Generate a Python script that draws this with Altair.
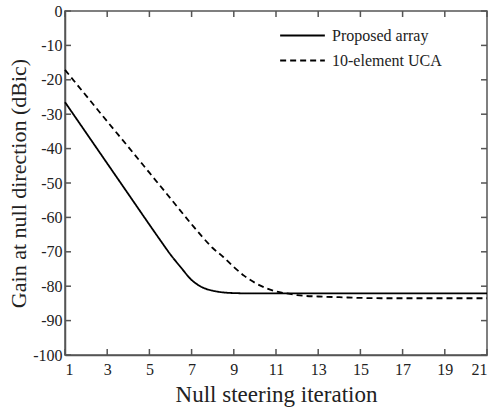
import altair as alt
import pandas as pd

# Values
iter_proposed = [1, 2, 3, 4, 5, 5.5, 6, 6.5, 7, 7.5, 8, 8.5, 9, 10, 11, 12, 13, 14, 15, 16, 17, 18, 19, 20, 21]
gain_proposed = [-26.5, -35.4, -44.3, -53.2, -62.1, -66.5, -70.8, -74.6, -78.2, -80.3, -81.3, -81.8, -82.0,
                 -82.1, -82.1, -82.1, -82.1, -82.1, -82.1, -82.1, -82.1, -82.1, -82.1, -82.1, -82.1]

iter_uca = [1, 2, 3, 4, 5, 6, 7, 7.5, 8, 8.5, 9, 9.5, 10, 10.5, 11, 11.5, 12, 13, 14, 15, 16, 17, 18, 19, 20, 21]
gain_uca = [-17.1, -24.6, -32.1, -39.5, -47.0, -54.5, -62.0, -65.6, -68.9, -71.5, -74.4, -77.0, -79.0, -80.5,
            -81.5, -82.1, -82.6, -83.0, -83.2, -83.4, -83.5, -83.5, -83.5, -83.5, -83.5, -83.5]

series_names = ["Proposed array", "10-element UCA"]
x_ticks = [1, 3, 5, 7, 9, 11, 13, 15, 17, 19, 21]
y_ticks = [0, -10, -20, -30, -40, -50, -60, -70, -80, -90, -100]

df = pd.concat([
    pd.DataFrame({"iter": iter_proposed, "gain": gain_proposed, "series": series_names[0]}),
    pd.DataFrame({"iter": iter_uca, "gain": gain_uca, "series": series_names[1]}),
])
xt = pd.DataFrame({"v": x_ticks})
yt = pd.DataFrame({"v": y_ticks})

W, H = 422, 344
FONT = "Liberation Serif"
AX = "#555555"
TXT = "#222222"

xscale = alt.Scale(domain=[1, 21], nice=False)
yscale = alt.Scale(domain=[-100, 0], nice=False)

xaxis = alt.Axis(values=x_ticks, tickSize=0, labelPadding=6, grid=False, labelOverlap=False,
                 labelExpr="toString(datum.value)", labelFont=FONT, labelFontSize=16, labelColor=TXT,
                 domainColor=AX, domainWidth=1.5,
                 title="Null steering iteration", titleFont=FONT, titleFontSize=23,
                 titleFontWeight="normal", titleColor=TXT, titlePadding=6)
yaxis = alt.Axis(values=y_ticks, tickSize=0, labelPadding=3, grid=False, labelOverlap=False,
                 labelExpr="toString(datum.value)", labelFont=FONT, labelFontSize=16, labelColor=TXT,
                 domainColor=AX, domainWidth=1.5,
                 title="Gain at null direction (dBic)", titleFont=FONT, titleFontSize=22,
                 titleFontWeight="normal", titleColor=TXT, titlePadding=2)

lines = alt.Chart(df).mark_line(color="black", strokeWidth=1.8, interpolate="monotone").encode(
    x=alt.X("iter:Q", scale=xscale, axis=xaxis),
    y=alt.Y("gain:Q", scale=yscale, axis=yaxis),
    strokeDash=alt.StrokeDash("series:N",
                              scale=alt.Scale(domain=series_names, range=[[1, 0], [6, 4]]),
                              legend=alt.Legend(title=None, orient="none", legendX=214, legendY=13,
                                                symbolType="stroke", symbolSize=2000,
                                                symbolStrokeColor="black", symbolStrokeWidth=1.8,
                                                labelFont=FONT, labelFontSize=16, labelColor=TXT,
                                                clipHeight=23, rowPadding=2, labelOffset=6)),
)

tick_style = dict(color=AX, strokeWidth=1.5)
bottom = alt.Chart(xt).mark_rule(**tick_style).encode(
    x=alt.X("v:Q", scale=xscale, axis=xaxis), y=alt.value(H), y2=alt.value(H - 6))
top = alt.Chart(xt).mark_rule(**tick_style).encode(
    x=alt.X("v:Q", scale=xscale, axis=xaxis), y=alt.value(0), y2=alt.value(6))
left = alt.Chart(yt).mark_rule(**tick_style).encode(
    y=alt.Y("v:Q", scale=yscale, axis=yaxis), x=alt.value(0), x2=alt.value(6))
right = alt.Chart(yt).mark_rule(**tick_style).encode(
    y=alt.Y("v:Q", scale=yscale, axis=yaxis), x=alt.value(W), x2=alt.value(W - 6))

chart = alt.layer(lines, bottom, top, left, right).properties(
    width=W, height=H,
    autosize=alt.AutoSizeParams(type="none"),
    padding={"left": 65, "top": 11, "right": 6, "bottom": 54},
    background="white",
).configure(
    font=FONT,
    style={"guide-label": {"font": FONT}, "guide-title": {"font": FONT}},
).configure_axis(
    labelFont=FONT, titleFont=FONT
).configure_view(
    stroke=AX, strokeWidth=1.5
)

chart.save("out.html", embed_options={"renderer": "svg", "actions": False})
